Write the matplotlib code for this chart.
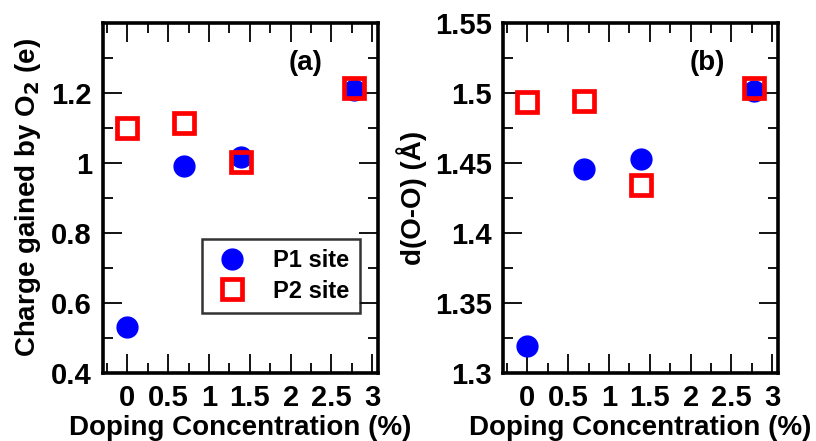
import matplotlib
matplotlib.use("agg")
import matplotlib.pyplot as plt
from matplotlib.ticker import MultipleLocator

plt.rcParams['font.family'] = ['Liberation Sans', 'DejaVu Sans']
plt.rcParams['font.weight'] = 'bold'

# doping concentrations (%)
doping = [0.0, 0.69, 1.39, 2.78]

# (a) charge gained by O2 (e)
charge_p1 = [0.532, 0.992, 1.017, 1.208]
charge_p2 = [1.100, 1.115, 1.003, 1.215]

# (b) O-O distance (Angstrom)
doo_p1 = [1.319, 1.4454, 1.4526, 1.5012]
doo_p2 = [1.4933, 1.4945, 1.4345, 1.5034]

W, H = 816, 441
fig = plt.figure(figsize=(W / 100, H / 100), dpi=100)

def panel(rect, p1, p2, ylim, major, ylabel, tag, tagx):
    ax = fig.add_axes([rect[0] / W, 1 - (rect[1] + rect[3]) / H, rect[2] / W, rect[3] / H])
    ax.plot(doping, p1, 'o', ms=15, color='#0000ff', mec='#0000ff', ls='none', label='P1 site')
    ax.plot(doping, p2, 's', ms=14, mfc='none', mec='#ff0000', mew=3.4, ls='none', label='P2 site')
    ax.set_xlim(-0.3, 3.07)
    ax.set_ylim(*ylim)
    ax.xaxis.set_minor_locator(MultipleLocator(0.25))
    ax.yaxis.set_minor_locator(MultipleLocator(major / 2))
    ax.set_xticks([0, 0.5, 1, 1.5, 2, 2.5, 3])
    ax.set_xticklabels(['0', '0.5', '1', '1.5', '2', '2.5', '3'])
    ax.tick_params(which='both', direction='in', top=True, right=True, width=1.3, labelsize=21)
    ax.tick_params(which='major', length=14, pad=8)
    ax.tick_params(which='minor', length=7)
    for s in ax.spines.values():
        s.set_linewidth(2.6)
    ax.set_xlabel('Doping Concentration (%)', fontsize=20, fontweight='bold', labelpad=2)
    ax.set_ylabel(ylabel, fontsize=20, fontweight='bold', labelpad=6)
    ax.text(tagx, 0.886, tag, transform=ax.transAxes, ha='center', va='center', fontsize=20, fontweight='bold')
    return ax

axa = panel((103, 23, 275, 350), charge_p1, charge_p2, (0.4, 1.4), 0.2,
            'Charge gained by O$_\\mathbf{2}$ (e)', '(a)', 0.735)
axa.set_yticks([0.4, 0.6, 0.8, 1.0, 1.2])
axa.set_yticklabels(['0.4', '0.6', '0.8', '1', '1.2'])
leg = axa.legend(loc='lower right', bbox_to_anchor=(0.935, 0.171), fontsize=17, frameon=True,
                 fancybox=False, edgecolor='black', handletextpad=0.95, borderpad=0.45,
                 labelspacing=0.3, handlelength=1.6, borderaxespad=0.0)
leg.get_frame().set_linewidth(1.8)

axb = panel((503, 23, 275, 350), doo_p1, doo_p2, (1.3, 1.55), 0.05, 'd(O-O) (Å)', '(b)', 0.742)
axb.set_yticks([1.3, 1.35, 1.4, 1.45, 1.5, 1.55])
axb.set_yticklabels(['1.3', '1.35', '1.4', '1.45', '1.5', '1.55'])

fig.savefig('out.png', dpi=100)
